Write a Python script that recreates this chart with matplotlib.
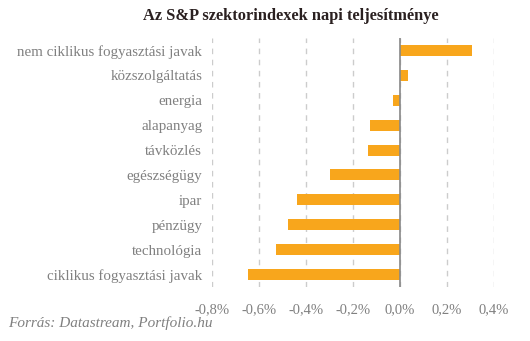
import matplotlib.pyplot as plt
from matplotlib.ticker import FuncFormatter

szektorok = ['nem ciklikus fogyasztási javak', 'közszolgáltatás', 'energia', 'alapanyag',
             'távközlés', 'egészségügy', 'ipar', 'pénzügy', 'technológia',
             'ciklikus fogyasztási javak']
valtozas = [0.305, 0.035, -0.029, -0.128, -0.136, -0.298, -0.438, -0.477, -0.528, -0.647]
x_tickek = [-0.8, -0.6, -0.4, -0.2, 0.0, 0.2, 0.4]

plt.rcParams['font.family'] = ['Liberation Serif', 'DejaVu Serif']

fig = plt.figure(figsize=(5.3, 3.41), dpi=100)
ax = fig.add_axes([212 / 530, 1 - 287 / 341, (494 - 212) / 530, (287 - 38) / 341])

y = list(range(len(szektorok)))
ax.barh(y, valtozas, height=0.44, color='#f8a61c', zorder=3)
ax.set_ylim(len(szektorok) - 0.5, -0.5)
ax.set_xlim(-0.8, 0.4)
ax.set_xticks(x_tickek)
ax.xaxis.set_major_formatter(FuncFormatter(lambda v, p: ('%.1f%%' % v).replace('.', ',')))
ax.set_yticks(y)
ax.set_yticklabels(szektorok)
ax.tick_params(length=0, colors='#808080')
ax.tick_params(axis='y', pad=7, labelsize=10.8)
ax.tick_params(axis='x', pad=12, labelsize=10.5)
for s in ax.spines.values():
    s.set_visible(False)
ax.grid(axis='x', linestyle=(0, (4, 4)), color='#cccccc', linewidth=1, zorder=0)
ax.axvline(0, color='#888888', linewidth=1.2, zorder=4)

fig.text(291 / 530, 1 - 16 / 341, 'Az S&P szektorindexek napi teljesítménye',
         ha='center', va='center', fontsize=11.8, fontweight='bold', color='#2a2020')
fig.text(8 / 530, 1 - 323 / 341, 'Forrás: Datastream, Portfolio.hu', ha='left', va='center',
         fontsize=11, style='italic', color='#808080')

fig.savefig('out.png', dpi=100)
